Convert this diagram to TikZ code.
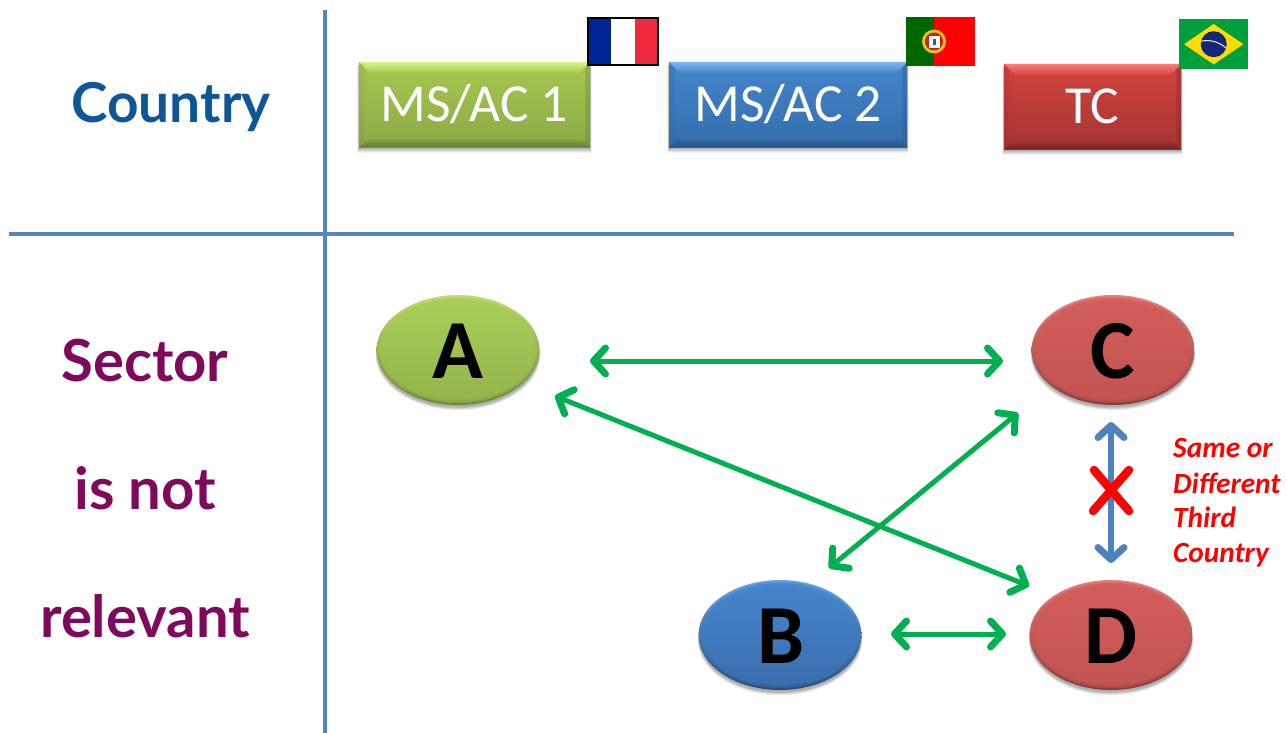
\documentclass[tikz,border=0pt]{standalone}
\usepackage{fontspec}
\setmainfont{Carlito}
\newfontfamily\comicfont{Lato}[BoldFont={Lato Bold}]
\usetikzlibrary{arrows.meta,calc,shapes.geometric}
\definecolor{rule}{HTML}{5685BD}
\definecolor{blu}{HTML}{4F81BD}
\definecolor{grn}{HTML}{00B050}
\definecolor{cblue}{HTML}{0F5697}
\definecolor{cplum}{HTML}{7F0A5B}
\definecolor{gtop}{HTML}{A6C850}\definecolor{gbot}{HTML}{8CA945}\definecolor{glight}{HTML}{D8F58A}\definecolor{gdark}{HTML}{5F7833}
\definecolor{btop}{HTML}{4585CC}\definecolor{bbot}{HTML}{336EAB}\definecolor{blight}{HTML}{7DB8F2}\definecolor{bdark}{HTML}{24507F}
\definecolor{rtop}{HTML}{D24340}\definecolor{rbot}{HTML}{A63432}\definecolor{rlight}{HTML}{F87C78}\definecolor{rdark}{HTML}{722221}
\definecolor{ogtop}{HTML}{A9CE58}\definecolor{ogbot}{HTML}{93B54C}\definecolor{oglight}{HTML}{C4E07A}\definecolor{ogdark}{HTML}{6A8434}
\definecolor{obtop}{HTML}{4585CC}\definecolor{obbot}{HTML}{3A6FAE}\definecolor{oblight}{HTML}{6AA6E6}\definecolor{obdark}{HTML}{24497A}
\definecolor{ortop}{HTML}{D25D5A}\definecolor{orbot}{HTML}{C25451}\definecolor{orlight}{HTML}{E58582}\definecolor{ordark}{HTML}{873A38}
\definecolor{frblue}{HTML}{002395}\definecolor{frred}{HTML}{EE2A3C}
\definecolor{ptgreen}{HTML}{006600}\definecolor{ptgold}{HTML}{D8C71E}\definecolor{ptred}{HTML}{C8221E}\definecolor{ptblue}{HTML}{3355AA}
\definecolor{brgreen}{HTML}{009F3D}\definecolor{bryellow}{HTML}{FFDC00}\definecolor{brblue}{HTML}{14267A}
\tikzset{
  x=1pt,y=-1pt,
  rulestyle/.style={draw=rule,line width=4.5pt},
  box/.style={rectangle,inner sep=0pt,anchor=north west},
  boxtext/.style={text=white,anchor=base,inner sep=0pt,font=\fontsize{53.5}{53.5}\selectfont},
  oval/.style={ellipse,inner sep=0pt,minimum width=163pt,minimum height=110pt},
  ovaltext/.style={inner sep=0pt,anchor=base,font=\fontsize{84}{84}\selectfont\bfseries,text=black},
  heading/.style={anchor=base,inner sep=0pt,font=\comicfont\fontsize{58}{58}\selectfont\bfseries},
  barbs/.style={{Straight Barb[length=12pt,width=26pt,line width=7pt,round]}-{Straight Barb[length=12pt,width=26pt,line width=7pt,round]}},
  gArrow/.style={draw=grn,line width=5pt,barbs},
  bArrow/.style={draw=blu,line width=5.5pt,barbs},
  notetext/.style={text=red,anchor=base west,inner sep=0pt,font=\fontsize{29.3}{29.3}\selectfont\bfseries\itshape},
  flagbox/.style={rectangle,inner sep=0pt,anchor=north west}
}
% name, x1, y1, w, h, colour prefix
\newcommand{\bevelbox}[6]{%
  \foreach \gr/\op in {5/.05,4/.06,3/.07,2/.08,1/.09}{
    \fill[black,opacity=\op] ($(#2,#3)+(-\gr*.35,3)$) rectangle ($(#2,#3)+(#4,#5)+(\gr*.35,1+\gr)$);
  }
  \node[box,minimum width=#4pt,minimum height=#5pt,top color=#6top,bottom color=#6bot] (#1) at (#2,#3) {};
  \path[top color=#6light,bottom color=#6top] (#1.north west) -- (#1.north east) -- ($(#1.north east)+(-11,11)$) -- ($(#1.north west)+(11,11)$) -- cycle;
  \path[top color=#6bot,bottom color=#6dark] (#1.south west) -- (#1.south east) -- ($(#1.south east)+(-9,-9)$) -- ($(#1.south west)+(9,-9)$) -- cycle;
  \fill[#6dark,opacity=.3] (#1.south east) -- (#1.north east) -- ($(#1.north east)+(-5,5)$) -- ($(#1.south east)+(-5,-5)$) -- cycle;
  \fill[#6dark,opacity=.12] (#1.south west) -- (#1.north west) -- ($(#1.north west)+(5,5)$) -- ($(#1.south west)+(5,-5)$) -- cycle;
}
% name, x, y, colour prefix
\newcommand{\ovalnode}[4]{%
  \foreach \gr/\op in {5/.05,4/.06,3/.07,2/.08,1/.09}{
    \fill[black,opacity=\op] ($(#2,#3)+(0,2+\gr*.5)$) ellipse [x radius=81+\gr*.3,y radius=54.5+\gr*.3];
  }
  \node[oval,top color=#4light,bottom color=#4dark] (#1) at (#2,#3) {};
  \path[top color=#4light!50!#4top,bottom color=#4dark!50!#4bot] (#1.center) ellipse [x radius=79.5,y radius=53.5];
  \path[top color=#4top!85!#4light,bottom color=#4dark!20!#4bot] (#1.center) ellipse [x radius=78.5,y radius=52];
  \path[top color=#4top,bottom color=#4bot] (#1.center) ellipse [x radius=77,y radius=50];
}
\begin{document}
\begin{tikzpicture}
\useasboundingbox (0,0) rectangle (1287,733);
\fill[white] (0,0) rectangle (1287,733);
% grid
\coordinate (vt) at (325,10); \coordinate (vb) at (325,733);
\coordinate (hl) at (9,234); \coordinate (hr) at (1234,234);
\draw[rulestyle] (vt) -- (vb);
\draw[rulestyle] (hl) -- (hr);
% headings
\node[heading,text=cblue,font=\comicfont\fontsize{55}{55}\selectfont\bfseries] (country) at (171,123) {Country};
\node[heading,text=cplum] (sector) at (145,381) {Sector};
\node[heading,text=cplum] (isnot) at (145,509) {is not};
\node[heading,text=cplum] (relevant) at (145,637) {relevant};
% boxes
\bevelbox{ms1}{359}{62}{231}{85}{g}
\node[boxtext] (ms1t) at (474,122) {MS/AC 1};
\bevelbox{ms2}{669}{62}{238}{85}{b}
\node[boxtext] (ms2t) at (788,122) {MS/AC 2};
\bevelbox{tc}{1004}{64}{177}{85}{r}
\node[boxtext] (tct) at (1092,124) {TC};
% flags
\node[flagbox,minimum width=72pt,minimum height=49pt,fill=white] (fr) at (587,17) {};
\fill[frblue] (fr.north west) rectangle ($(fr.south west)+(24,0)$);
\fill[frred] (fr.north east) rectangle ($(fr.south east)+(-24,0)$);
\draw[black,line width=2pt] ($(fr.north west)+(1,1)$) rectangle ($(fr.south east)+(-1,-1)$);
\node[flagbox,minimum width=69pt,minimum height=49pt,fill=red] (pt) at (906,17) {};
\fill[ptgreen] (pt.north west) rectangle ($(pt.south west)+(28,0)$);
\fill[ptgold] ($(pt.north west)+(28,24.5)$) circle (12pt);
\fill[ptred] ($(pt.north west)+(28,24.5)$) circle (9pt);
\fill[white] ($(pt.north west)+(22.5,19)$) rectangle ($(pt.north west)+(33.5,31)$);
\fill[ptblue] ($(pt.north west)+(26.5,22)$) rectangle ($(pt.north west)+(29.5,28)$);
\node[flagbox,minimum width=69pt,minimum height=50pt,fill=brgreen] (br) at (1179,19) {};
\fill[bryellow] ($(br.west)+(5,0)$) -- ($(br.north)+(0,5)$) -- ($(br.east)+(-5,0)$) -- ($(br.south)+(0,-5)$) -- cycle;
\fill[brblue] (br.center) circle (13pt);
\draw[white!85!gray,line width=1pt] ($(br.center)+(-12.5,-3)$) .. controls ($(br.center)+(-3,-5)$) and ($(br.center)+(6,-2)$) .. ($(br.center)+(12.5,4)$);
% ovals
\ovalnode{A}{458}{350}{og}
\node[ovaltext] (At) at (458,378) {A};
\ovalnode{C}{1113}{350}{or}
\node[ovaltext] (Ct) at (1113,378) {C};
\ovalnode{B}{780}{635}{ob}
\node[ovaltext] (Bt) at (781,663) {B};
\ovalnode{D}{1111}{635}{or}
\node[ovaltext] (Dt) at (1111,663) {D};
% connector ends
\coordinate (acA) at (590,361); \coordinate (acC) at (1003,361);
\coordinate (adA) at (555,396); \coordinate (adD) at (1029,586);
\coordinate (cbC) at (1018,413); \coordinate (cbB) at (829,568);
\coordinate (bdB) at (891,634); \coordinate (bdD) at (1006,634);
\coordinate (cdC) at (1111,422); \coordinate (cdD) at (1111,563);
\draw[gArrow] (acA) -- (acC);
\draw[gArrow] (adA) -- (adD);
\draw[gArrow] (cbC) -- (cbB);
\draw[gArrow] (bdB) -- (bdD);
\draw[bArrow] (cdC) -- (cdD);
% cross
\draw[red,line width=8.5pt,line cap=round] (1094,470) -- (1129,511);
\draw[red,line width=8.5pt,line cap=round] (1129,470) -- (1093,511);
% note
\node[notetext] (n1) at (1173,457) {Same or};
\node[notetext] (n2) at (1173,493) {Different};
\node[notetext] (n3) at (1173,527) {Third};
\node[notetext] (n4) at (1173,562) {Country};
\end{tikzpicture}
\end{document}
